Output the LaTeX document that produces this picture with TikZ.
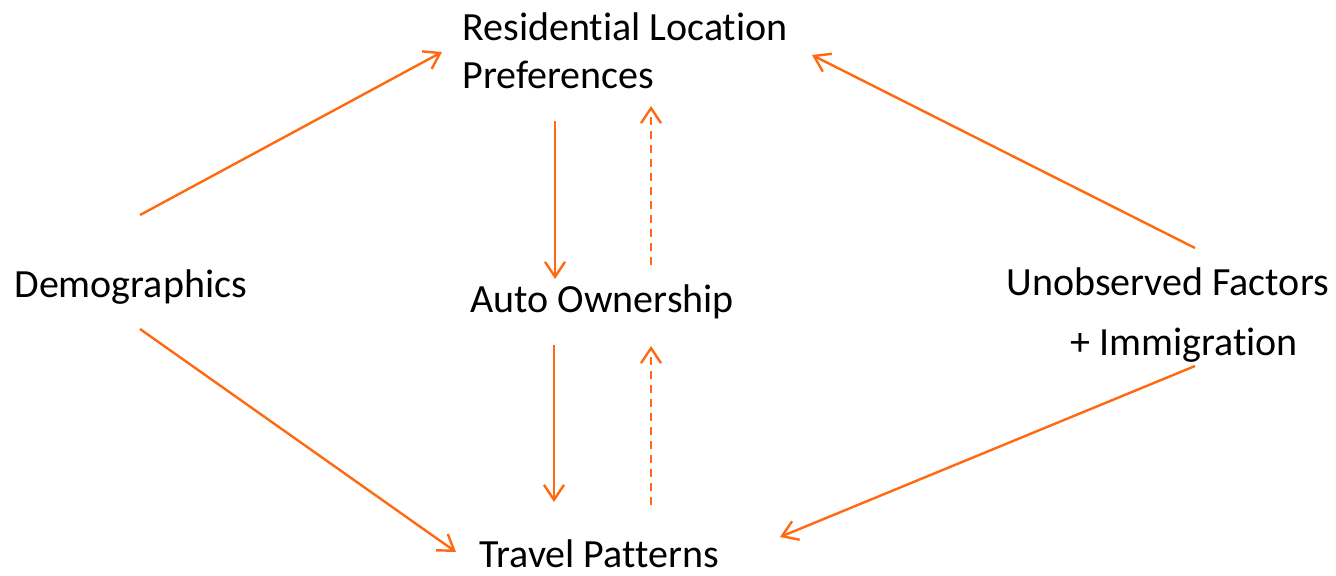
\documentclass[tikz,border=0pt]{standalone}
\usepackage{fontspec}
\setmainfont{Carlito}[Ligatures=NoCommon]
\usetikzlibrary{arrows.meta}

\definecolor{arroworange}{HTML}{FF6A10}

\tikzset{
    label/.style={inner sep=0pt, anchor=base west, font=\fontsize{20}{24}\selectfont},
    link/.style={draw=arroworange, line width=1.2pt, -{Straight Barb[length=7.5pt,width=10pt,line width=1.2pt]}},
    back/.style={link, dash pattern=on 4pt off 3pt},
}

\begin{document}
\begin{tikzpicture}[x=0.5pt, y=-0.5pt]
    \useasboundingbox (0,0) rectangle (1336,575);

    % labels
    \node[label, align=left] (res) at (462,88) {Residential Location\\Preferences};
    \node[label] (demo) at (14,297) {Demographics};
    \node[label] (auto) at (470,312) {Auto Ownership};
    \node[label] (unobs) at (1006,295) {Unobserved Factors};
    \node[label] (immig) at (1070,355) {+ Immigration};
    \node[label] (travel) at (479,567) {Travel Patterns};

    % outer arrows
    \draw[link] ([shift={(126,-82)}]demo.base west) -- ([shift={(-20,-36)}]res.base west);
    \draw[link] ([shift={(126,32)}]demo.base west) -- ([shift={(-23,-15)}]travel.base west);
    \draw[link] ([shift={(189,-47)}]unobs.base west) -- ([shift={(350,-33)}]res.base west);
    \draw[link] ([shift={(125,11)}]immig.base west) -- ([shift={(301,-30)}]travel.base west);

    % middle arrows
    \draw[link] ([shift={(93,33)}]res.base west) -- ([shift={(85,-33)}]auto.base west);
    \draw[back] ([shift={(181,-47)}]auto.base west) -- ([shift={(189,18)}]res.base west);
    \draw[link] ([shift={(84,33)}]auto.base west) -- ([shift={(75,-65)}]travel.base west);
    \draw[back] ([shift={(172,-62)}]travel.base west) -- ([shift={(181,34)}]auto.base west);

\end{tikzpicture}
\end{document}
